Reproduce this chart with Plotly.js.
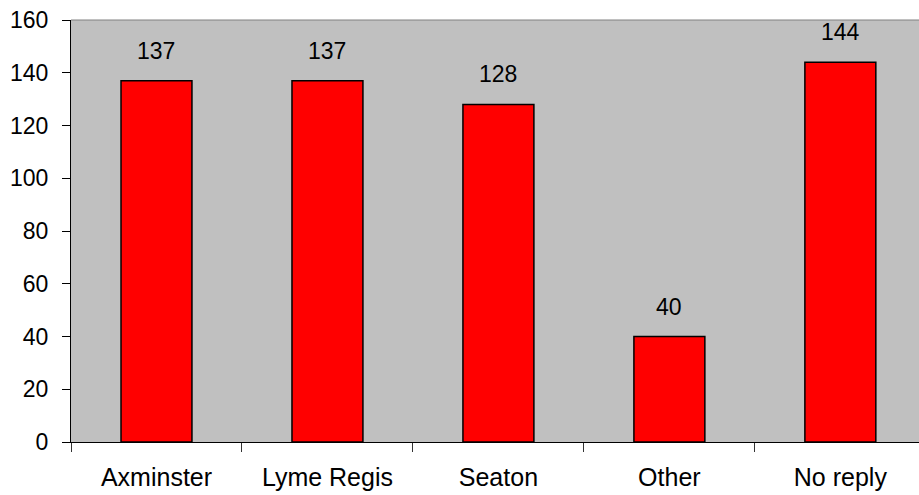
<!DOCTYPE html>
<html>
<head>
<meta charset="utf-8">
<script src="https://cdn.plot.ly/plotly-3.0.1.min.js"></script>
<style>html,body{margin:0;padding:0;background:#fff;}#chart{width:919px;height:495px;}</style>
</head>
<body>
<div id="chart"></div>
<script>
const categories = ["Axminster", "Lyme Regis", "Seaton", "Other", "No reply"];
const values = [137, 137, 128, 40, 144];
const yTicks = [0, 20, 40, 60, 80, 100, 120, 140, 160];

const font = {family: "Liberation Sans, Arial, sans-serif", size: 23, color: "#000"};
const xFont = {family: "Liberation Sans, Arial, sans-serif", size: 25, color: "#000"};

const trace = {
  type: "bar",
  x: categories,
  y: values,
  width: 0.415,
  marker: {color: "#ff0000", line: {color: "#000", width: 1.5}},
  hoverinfo: "none"
};

const annotations = categories.map((c, i) => ({
  x: c, y: values[i], text: String(values[i]),
  showarrow: false, xanchor: "center", yanchor: "bottom", yshift: 15,
  font: font
}));

const layout = {
  width: 919, height: 495,
  margin: {l: 71, r: 0, t: 20, b: 53},
  paper_bgcolor: "#ffffff",
  plot_bgcolor: "#c0c0c0",
  showlegend: false,
  font: font,
  bargap: 0,
  xaxis: {
    type: "category",
    range: [-0.5, 4.46],
    tickson: "boundaries",
    ticks: "outside", ticklen: 9, tickwidth: 1, tickcolor: "#333",
    showline: true, linecolor: "#000", linewidth: 1,
    showgrid: false, zeroline: false,
    tickfont: xFont,
    ticklabelstandoff: 13
  },
  yaxis: {
    range: [0, 160],
    tickvals: yTicks,
    ticktext: yTicks.map(String),
    ticks: "outside", ticklen: 8, tickwidth: 1, tickcolor: "#000",
    showline: true, linecolor: "#000", linewidth: 1,
    showgrid: false, zeroline: false,
    tickfont: font,
    ticklabelstandoff: 9
  },
  shapes: [{type: "line", xref: "paper", yref: "paper", x0: 0, x1: 1, y0: 1, y1: 1, line: {color: "#808080", width: 1}}],
  annotations: annotations
};

Plotly.newPlot("chart", [trace], layout, {staticPlot: true, displayModeBar: false});
</script>
</body>
</html>
